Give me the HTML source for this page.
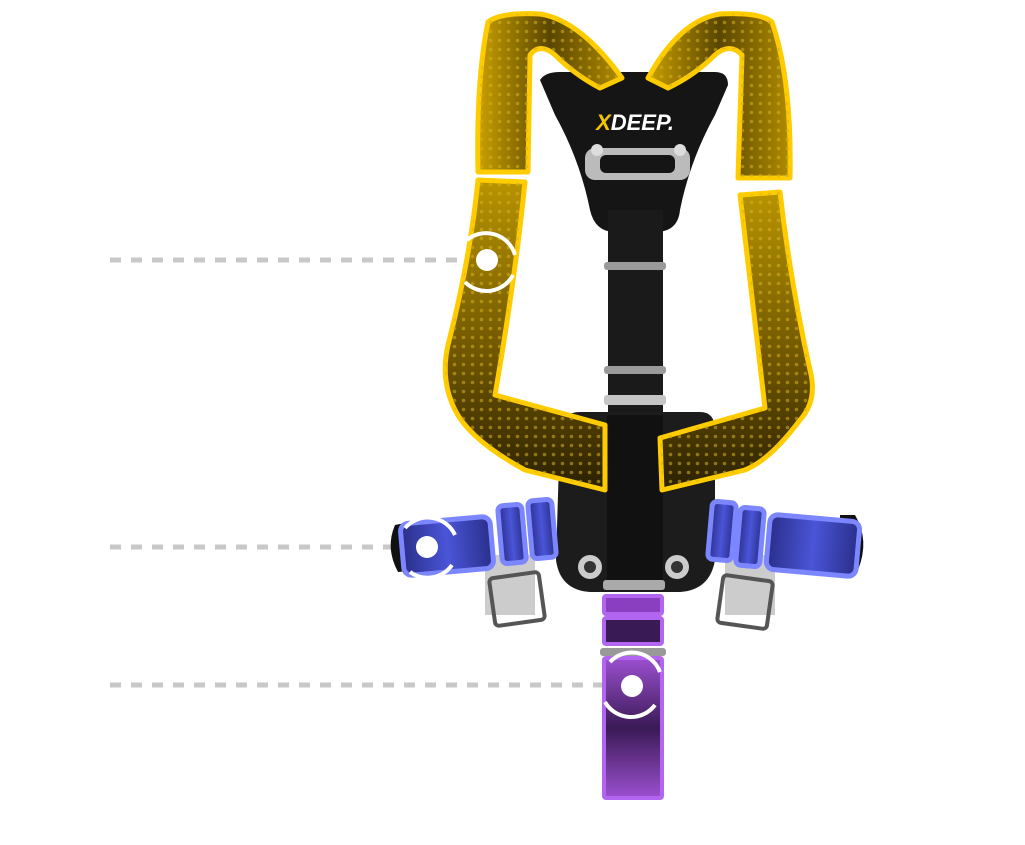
<!DOCTYPE html>
<html><head><meta charset="utf-8"><style>
html,body{margin:0;padding:0;background:#fff;width:1025px;height:845px;overflow:hidden}
svg{display:block}
</style></head><body>
<svg width="1025" height="845" viewBox="0 0 1025 845" xmlns="http://www.w3.org/2000/svg">
<defs>
<linearGradient id="ylL" x1="0" y1="0" x2="1" y2="0">
<stop offset="0" stop-color="#c9a000"/><stop offset="0.5" stop-color="#5a4600"/><stop offset="1" stop-color="#b08c00"/></linearGradient>
<linearGradient id="ylV" x1="0" y1="0" x2="0" y2="1">
<stop offset="0" stop-color="#b89400"/><stop offset="0.6" stop-color="#6a5200"/><stop offset="1" stop-color="#2a2000"/></linearGradient>
<linearGradient id="bl" x1="0" y1="0" x2="1" y2="0">
<stop offset="0" stop-color="#2a2f8a"/><stop offset="0.5" stop-color="#4a55d8"/><stop offset="1" stop-color="#2a2f8a"/></linearGradient>
<linearGradient id="pu" x1="0" y1="0" x2="0" y2="1">
<stop offset="0" stop-color="#9b50d0"/><stop offset="0.5" stop-color="#3a1a55"/><stop offset="1" stop-color="#9b50d0"/></linearGradient>
<pattern id="dots" width="9" height="9" patternUnits="userSpaceOnUse"><circle cx="4.5" cy="4.5" r="1.8" fill="#d4b020" opacity="0.55"/></pattern>
</defs>

<!-- dashed leader lines -->
<g stroke="#c8c8c8" stroke-width="5" stroke-dasharray="11 10">
<line x1="110" y1="260" x2="465" y2="260"/>
<line x1="110" y1="547" x2="405" y2="547"/>
<line x1="110" y1="685" x2="605" y2="685"/>
</g>

<!-- back plate -->
<path d="M540 80 Q545 72 560 72 L715 72 Q728 72 728 85 L715 115 Q690 160 680 210 Q678 232 655 232 L615 232 Q595 232 590 210 Q580 160 555 115 Z" fill="#151515"/>
<text x="635" y="130" font-family="Liberation Sans, sans-serif" font-weight="bold" font-style="italic" font-size="22" fill="#fff" text-anchor="middle"><tspan fill="#f2c500">X</tspan>DEEP.</text>
<rect x="585" y="148" width="105" height="32" rx="10" fill="#bbb"/>
<rect x="600" y="155" width="75" height="18" rx="6" fill="#151515"/>
<circle cx="597" cy="150" r="6" fill="#ddd"/><circle cx="680" cy="150" r="6" fill="#ddd"/>

<!-- center webbing -->
<rect x="608" y="210" width="55" height="380" fill="#1a1a1a"/>
<rect x="604" y="262" width="62" height="8" rx="3" fill="#9a9a9a"/>
<rect x="604" y="366" width="62" height="8" rx="3" fill="#9a9a9a"/>
<rect x="604" y="395" width="62" height="10" rx="3" fill="#c5c5c5"/>

<!-- lower plate -->
<path d="M580 412 L700 412 Q715 412 715 430 L715 560 Q710 590 680 592 L590 592 Q560 590 556 560 L560 430 Q562 412 580 412 Z" fill="#1c1c1c"/>
<rect x="607" y="415" width="56" height="175" fill="#111"/>
<circle cx="590" cy="567" r="12" fill="#ccc"/><circle cx="590" cy="567" r="6" fill="#333"/>
<circle cx="677" cy="567" r="12" fill="#ccc"/><circle cx="677" cy="567" r="6" fill="#333"/>
<rect x="603" y="580" width="62" height="10" rx="3" fill="#aaa"/>

<!-- left shoulder strap upper -->
<path d="M488 22 Q500 12 540 14 Q580 20 622 78 L600 88 Q575 75 555 55 Q540 42 530 55 L528 172 L478 172 Q476 80 488 22 Z" fill="url(#ylL)" stroke="#ffcc00" stroke-width="5" stroke-linejoin="round"/>
<path d="M488 22 Q500 12 540 14 Q580 20 622 78 L600 88 Q575 75 555 55 Q540 42 530 55 L528 172 L478 172 Q476 80 488 22 Z" fill="url(#dots)"/>
<!-- left lower -->
<path d="M478 180 L525 182 Q515 280 495 395 L605 425 L605 490 L525 470 Q470 440 455 410 Q440 380 448 345 Q470 260 478 180 Z" fill="url(#ylV)" stroke="#ffcc00" stroke-width="5" stroke-linejoin="round"/>
<path d="M478 180 L525 182 Q515 280 495 395 L605 425 L605 490 L525 470 Q470 440 455 410 Q440 380 448 345 Q470 260 478 180 Z" fill="url(#dots)"/>

<!-- right shoulder strap upper -->
<path d="M772 22 Q760 12 720 14 Q680 20 648 78 L668 88 Q695 75 715 55 Q730 42 742 55 L738 178 L790 178 Q792 80 772 22 Z" fill="url(#ylL)" stroke="#ffcc00" stroke-width="5" stroke-linejoin="round"/>
<path d="M772 22 Q760 12 720 14 Q680 20 648 78 L668 88 Q695 75 715 55 Q730 42 742 55 L738 178 L790 178 Q792 80 772 22 Z" fill="url(#dots)"/>
<!-- right lower -->
<path d="M740 195 L780 192 Q790 280 810 370 Q818 400 800 420 Q770 460 745 470 L662 490 L660 438 L765 408 Q752 300 740 195 Z" fill="url(#ylV)" stroke="#ffcc00" stroke-width="5" stroke-linejoin="round"/>
<path d="M740 195 L780 192 Q790 280 810 370 Q818 400 800 420 Q770 460 745 470 L662 490 L660 438 L765 408 Q752 300 740 195 Z" fill="url(#dots)"/>

<!-- left waist buckle -->
<rect x="485" y="555" width="50" height="60" fill="#ccc"/>
<rect x="492" y="575" width="50" height="48" rx="4" fill="none" stroke="#555" stroke-width="4" transform="rotate(-8 517 599)"/>
<path d="M395 525 Q385 548 398 572 L420 570 L420 520 Z" fill="#111"/>
<rect x="402" y="520" width="90" height="52" rx="8" fill="url(#bl)" stroke="#7b86ff" stroke-width="5" transform="rotate(-5 447 546)"/>
<rect x="500" y="505" width="24" height="58" rx="5" fill="url(#bl)" stroke="#7b86ff" stroke-width="5" transform="rotate(-5 512 534)"/>
<rect x="530" y="500" width="24" height="58" rx="5" fill="url(#bl)" stroke="#7b86ff" stroke-width="5" transform="rotate(-5 542 529)"/>

<!-- right waist buckle -->
<rect x="725" y="555" width="50" height="60" fill="#ccc"/>
<rect x="720" y="578" width="50" height="48" rx="4" fill="none" stroke="#555" stroke-width="4" transform="rotate(8 745 602)"/>
<path d="M855 515 Q870 540 858 570 L840 568 L840 515 Z" fill="#111"/>
<rect x="710" y="502" width="24" height="58" rx="5" fill="url(#bl)" stroke="#7b86ff" stroke-width="5" transform="rotate(5 722 531)"/>
<rect x="738" y="508" width="24" height="58" rx="5" fill="url(#bl)" stroke="#7b86ff" stroke-width="5" transform="rotate(5 750 537)"/>
<rect x="768" y="518" width="90" height="55" rx="8" fill="url(#bl)" stroke="#7b86ff" stroke-width="5" transform="rotate(5 813 545)"/>

<!-- crotch strap -->
<rect x="604" y="596" width="58" height="18" rx="2" fill="#8a3fc0" stroke="#b266f0" stroke-width="4"/>
<rect x="604" y="618" width="58" height="26" rx="2" fill="#3a1a55" stroke="#b266f0" stroke-width="4"/>
<rect x="600" y="648" width="66" height="8" rx="3" fill="#999"/>
<rect x="604" y="658" width="58" height="140" rx="2" fill="url(#pu)" stroke="#b266f0" stroke-width="4"/>

<!-- markers -->
<g fill="none" stroke="#fff" stroke-width="4">
<path d="M467 240 A30 30 0 0 1 515 255"/><path d="M513 275 A30 30 0 0 1 465 282"/>
<path d="M405 528 A30 30 0 0 1 455 535"/><path d="M452 565 A30 30 0 0 1 410 572"/>
<path d="M610 662 A30 30 0 0 1 660 672"/><path d="M655 705 A30 30 0 0 1 605 702"/>
</g>
<circle cx="487" cy="260" r="11" fill="#fff"/>
<circle cx="427" cy="547" r="11" fill="#fff"/>
<circle cx="632" cy="686" r="11" fill="#fff"/>
</svg>
</body></html>
